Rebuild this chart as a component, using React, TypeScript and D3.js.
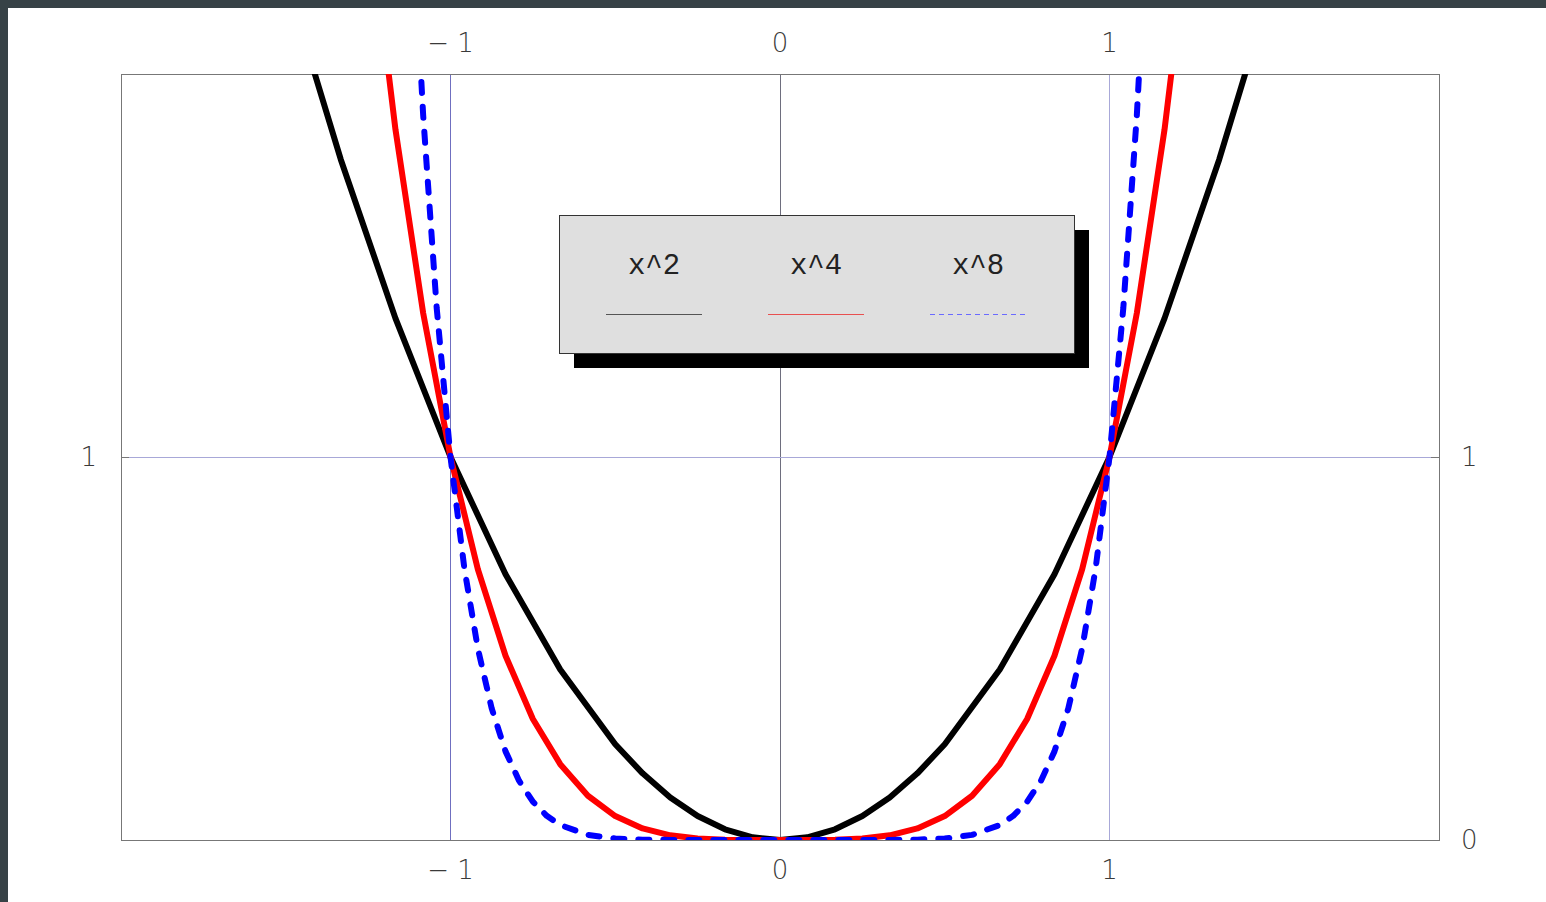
import * as d3 from 'd3'

// sample points (Plot-style polyline vertices)
const squareX = [-1.5, -1.333, -1.167, -1, -0.833, -0.667, -0.5, -0.417, -0.333, -0.25, -0.167, -0.083, 0,
  0.083, 0.167, 0.25, 0.333, 0.417, 0.5, 0.667, 0.833, 1, 1.167, 1.333, 1.5]
const squareY = [2.25, 1.777, 1.362, 1, 0.694, 0.445, 0.25, 0.174, 0.111, 0.0625, 0.0279, 0.0069, 0,
  0.0069, 0.0279, 0.0625, 0.111, 0.174, 0.25, 0.445, 0.694, 1, 1.362, 1.777, 2.25]

const quartX = [-1.333, -1.25, -1.167, -1.083, -1, -0.917, -0.833, -0.75, -0.667, -0.583, -0.5, -0.417, -0.333,
  -0.25, -0.167, -0.083, 0, 0.083, 0.167, 0.25, 0.333, 0.417, 0.5, 0.583, 0.667, 0.75, 0.833, 0.917, 1,
  1.083, 1.167, 1.25, 1.333]
const quartY = [3.157, 2.441, 1.855, 1.376, 1, 0.707, 0.481, 0.316, 0.198, 0.1155, 0.0625, 0.0302, 0.0123,
  0.0039, 0.00078, 0.00005, 0, 0.00005, 0.00078, 0.0039, 0.0123, 0.0302, 0.0625, 0.1155, 0.198, 0.316, 0.481,
  0.707, 1, 1.376, 1.855, 2.441, 3.157]

const octX = [-1.125, -1.083, -1.042, -1, -0.958, -0.917, -0.875, -0.833, -0.792, -0.75, -0.708, -0.667,
  -0.583, -0.5, -0.417, -0.333, -0.25, -0.167, -0.083, 0, 0.083, 0.167, 0.25, 0.333, 0.417, 0.5, 0.583,
  0.667, 0.708, 0.75, 0.792, 0.833, 0.875, 0.917, 0.958, 1, 1.042, 1.083, 1.125]
const octY = [2.566, 1.893, 1.39, 1, 0.7095, 0.4999, 0.3436, 0.2314, 0.1548, 0.1001, 0.0631, 0.0392,
  0.01334, 0.0039, 0.00091, 0.00015, 0.000015, 0, 0, 0, 0, 0, 0.000015, 0.00015, 0.00091, 0.0039, 0.01334,
  0.0392, 0.0631, 0.1001, 0.1548, 0.2314, 0.3436, 0.4999, 0.7095, 1, 1.39, 1.893, 2.566]

const legendLabels = ['x^2', 'x^4', 'x^8']
const xTicks = [-1, 0, 1]
const yTicksLeft = [1]
const yTicksRight = [0, 1]

const tickFont = "'DejaVu Sans ExtraLight', 'DejaVu Sans', sans-serif"
const monoFont = "'Courier New', 'Liberation Mono', monospace"

const fmt = (v: number) => (v < 0 ? `\u2212 ${Math.abs(v)}` : `${v}`)

export default function App() {
  const left = 121
  const right = 1439
  const top = 74
  const bottom = 840

  const x = d3.scaleLinear().domain([-2, 2]).range([left, right])
  const y = d3.scaleLinear().domain([0, 2]).range([bottom, top])

  const line = d3
    .line<[number, number]>()
    .x((d) => x(d[0]))
    .y((d) => y(d[1]))

  const series = [
    { xs: squareX, ys: squareY, color: '#000', dash: undefined, legend: '#555', legendDash: undefined },
    { xs: quartX, ys: quartY, color: '#ff0000', dash: undefined, legend: '#e85050', legendDash: undefined },
    { xs: octX, ys: octY, color: '#0000ff', dash: '11 14', legend: '#6a6aff', legendDash: '5 4' },
  ]

  const lx = 559
  const ly = 215
  const lw = 515
  const lh = 138

  return (
    <svg
      width={1546}
      height={902}
      style={{ position: 'absolute', left: 0, top: 0, background: '#fff' }}
    >
      <rect x={0} y={0} width={1546} height={8} fill="#374246" />
      <rect x={0} y={0} width={8} height={902} fill="#374246" />

      <defs>
        <clipPath id="plot">
          <rect x={left} y={top} width={right - left} height={bottom - top} />
        </clipPath>
      </defs>

      {/* grid */}
      <g shapeRendering="crispEdges">
        <line x1={x(-1)} x2={x(-1)} y1={top} y2={bottom} stroke="#6f6fc0" strokeWidth={1} />
        <line x1={x(1)} x2={x(1)} y1={top} y2={bottom} stroke="#a8a8d8" strokeWidth={1} />
        <line x1={x(0)} x2={x(0)} y1={top} y2={bottom} stroke="#6e6e7e" strokeWidth={1} />
        <line x1={left} x2={right} y1={y(1)} y2={y(1)} stroke="#a8a8d8" strokeWidth={1} />

        <rect x={left} y={top} width={right - left} height={bottom - top} fill="none" stroke="#777" strokeWidth={1} />
        <line x1={left} x2={left + 8} y1={y(1)} y2={y(1)} stroke="#777" />
        <line x1={right - 8} x2={right} y1={y(1)} y2={y(1)} stroke="#777" />
      </g>

      {/* curves */}
      <g clipPath="url(#plot)">
        {series.map((s, i) => (
          <path
            key={i}
            d={line(s.xs.map((v, j) => [v, s.ys[j]] as [number, number])) || ''}
            fill="none"
            stroke={s.color}
            strokeWidth={6}
            strokeDasharray={s.dash}
            strokeLinecap={s.dash ? 'round' : 'butt'}
            strokeLinejoin="round"
          />
        ))}
      </g>

      {/* tick labels */}
      <g fontFamily={tickFont} fontSize={26} fontWeight={300} fill="#3a3a3a">
        {xTicks.map((t) => (
          <text key={`t${t}`} x={x(t)} y={52} textAnchor="middle">
            {fmt(t)}
          </text>
        ))}
        {xTicks.map((t) => (
          <text key={`b${t}`} x={x(t)} y={879} textAnchor="middle">
            {fmt(t)}
          </text>
        ))}
        {yTicksLeft.map((t) => (
          <text key={`l${t}`} x={97} y={y(t) + 9} textAnchor="end">
            {fmt(t)}
          </text>
        ))}
        {yTicksRight.map((t) => (
          <text key={`r${t}`} x={1461} y={y(t) + 9} textAnchor="start">
            {fmt(t)}
          </text>
        ))}
      </g>

      {/* legend */}
      <rect x={lx + 15} y={ly + 15} width={lw} height={lh} fill="#000" />
      <rect x={lx} y={ly} width={lw} height={lh} fill="#dfdfdf" stroke="#333" strokeWidth={1} shapeRendering="crispEdges" />
      {series.map((s, i) => {
        const cx = 654 + i * 162
        return (
          <g key={i}>
            <text x={cx} y={274} textAnchor="middle" fontFamily={monoFont} fontSize={29} fill="#222">
              {legendLabels[i]}
            </text>
            <line
              x1={cx - 48}
              x2={cx + 48}
              y1={314.5}
              y2={314.5}
              stroke={s.legend}
              strokeWidth={1}
              strokeDasharray={s.legendDash}
            />
          </g>
        )
      })}
    </svg>
  )
}
